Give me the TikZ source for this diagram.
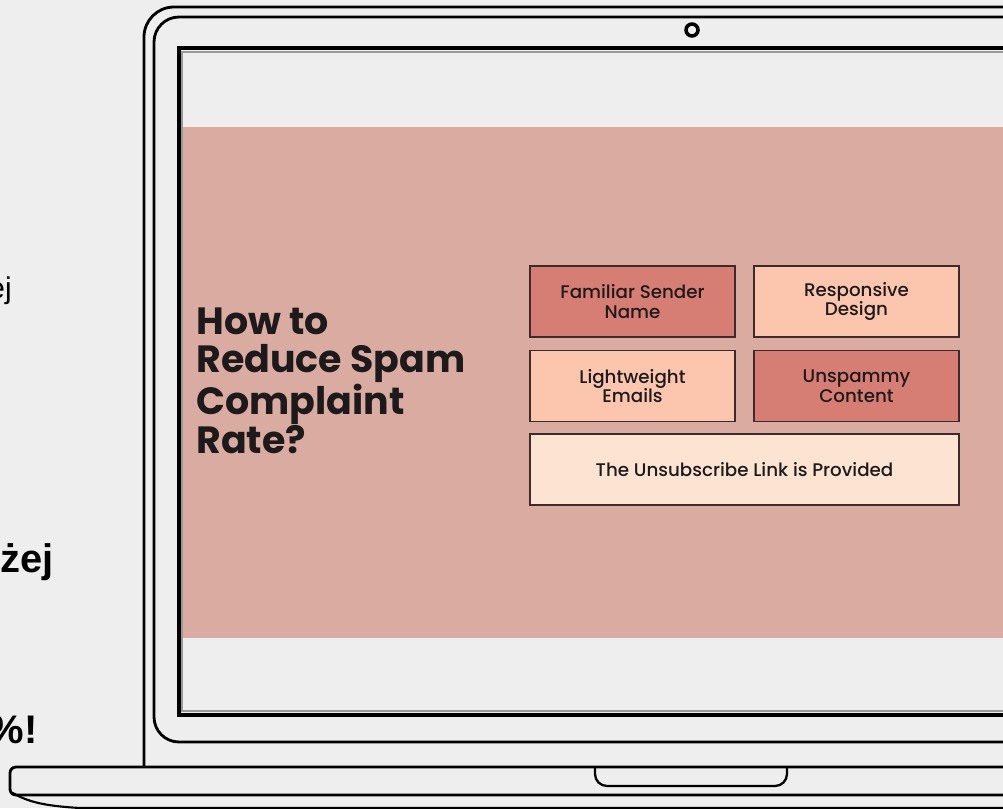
\documentclass[tikz,border=0pt]{standalone}
\usepackage{fontspec}
\setmainfont{Poppins}
\newfontfamily\poppinsmed{Poppins Medium}
\newfontfamily\arialfont{Liberation Sans}

\definecolor{bgrey}{HTML}{EEEEEE}
\definecolor{screenpink}{HTML}{DAABA1}
\definecolor{rosebox}{HTML}{D77E74}
\definecolor{peachbox}{HTML}{FCC5AD}
\definecolor{creambox}{HTML}{FDE3D1}
\definecolor{boxline}{HTML}{3B2B2B}
\definecolor{inkdark}{HTML}{1C1A1A}

\begin{document}
\begin{tikzpicture}[x = 0.02cm, y = -0.02cm]
\tikzstyle{laptopLine} = [line width = 1.6pt, draw = black]
\tikzstyle{cutText} = [anchor = base east, inner sep = 0pt, text = black]
\tikzstyle{tipBox} = [draw = boxline, line width = 1.1pt, minimum width = 4.1cm, minimum height = 1.42cm, inner sep = 0pt, align = center, text = inkdark, font = \poppinsmed\fontsize{10.4}{11.3}\selectfont]
\useasboundingbox (0,0) rectangle (1003,808);
\clip (0,0) rectangle (1003,808);
\fill[bgrey] (0,0) rectangle (1003,808);
% lid
\draw[laptopLine, rounded corners = 0.6cm] (144,767) -- (144,7) -- (1040,7);
\draw[laptopLine, rounded corners = 0.5cm] (1040,742) -- (154,742) -- (154,17) -- (1040,17);
\fill[screenpink] (182,127) rectangle (1040,638);
\draw[gray!80, line width = 0.8pt] (1040,52) -- (182,52) -- (182,711) -- (1040,711);
\draw[laptopLine, line width = 1.8pt] (1040,48) -- (179,48) -- (179,715) -- (1040,715);
\node[circle, draw, line width = 2pt, minimum size = 0.24cm, inner sep = 0pt] (camera) at (692,30) {};
% base
\draw[laptopLine, rounded corners = 0.12cm] (1040,767) -- (10,767) -- (10,795) -- (1040,795);
\draw[laptopLine, line width = 1.2pt] (13,793) .. controls (28,802) and (45,806) .. (80,808) -- (1040,808);
\draw[laptopLine, line width = 1.3pt, rounded corners = 0.24cm] (595,767) -- (595,786) -- (787,786) -- (787,767);
% text cut off at the left
\node[cutText, font = \arialfont\fontsize{17}{20}\selectfont] (cutA) at (12,298) {ej};
\node[cutText, font = \arialfont\bfseries\fontsize{22.7}{26}\selectfont] (cutB) at (54,572) {żej};
\node[cutText, font = \arialfont\bfseries\fontsize{22.7}{26}\selectfont] (cutC) at (38,743) {\%!};
% slide
\node[anchor = north west, align = left, inner sep = 0pt, text = inkdark, font = \bfseries\fontsize{21.6}{22}\selectfont] (title) at (196,307) {How to\\Reduce Spam\\Complaint\\Rate?};
\node[tipBox, fill = rosebox] (sender) at (632.5,301.5) {Familiar Sender\\Name};
\node[tipBox, fill = peachbox] (design) at (856.5,301.5) {Responsive\\Design};
\node[tipBox, fill = peachbox] (light) at (632.5,386) {Lightweight\\Emails};
\node[tipBox, fill = rosebox] (unspam) at (856.5,386) {Unspammy\\Content};
\node[tipBox, fill = creambox, minimum width = 8.58cm] (unsub) at (744.5,469.5) {The Unsubscribe Link is Provided};
\end{tikzpicture}
\end{document}
